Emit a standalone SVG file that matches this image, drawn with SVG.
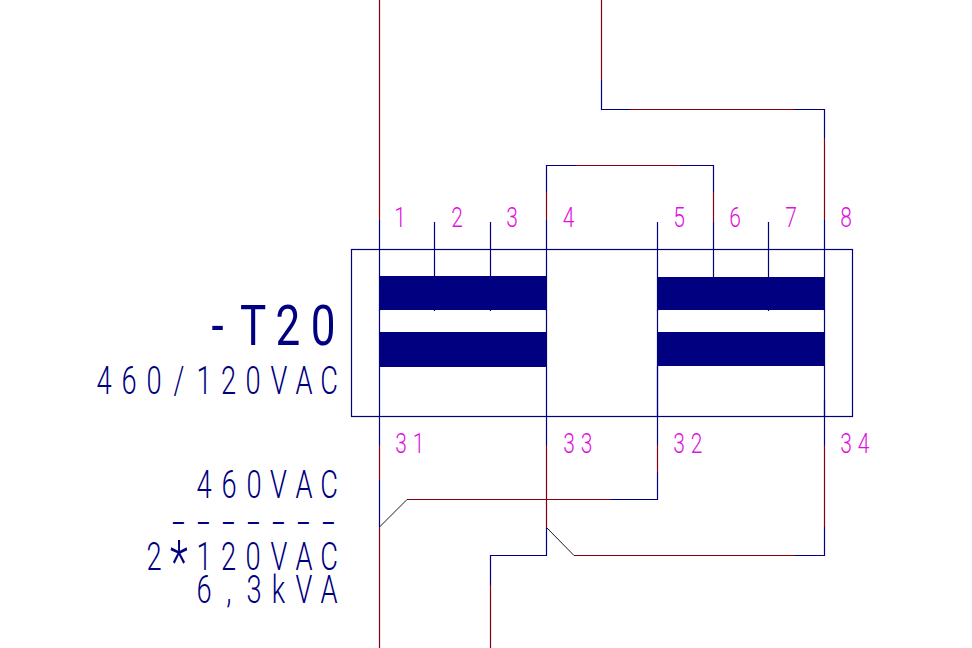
<svg xmlns="http://www.w3.org/2000/svg" width="972" height="648" viewBox="0 0 972 648">
<style>
.n{fill:none;stroke:#000080;stroke-width:1.2}
.r{fill:none;stroke:#850010;stroke-width:1.2}
.k{fill:none;stroke:#000000;stroke-width:.9}
.c{fill:#000080;stroke:none}
text{font-family:"Roboto","Liberation Sans",sans-serif;text-anchor:middle}
.t{fill:#000080;font-size:39px;font-weight:300}
.b{fill:#000080;font-size:55px;font-weight:400}
.m{fill:#e010e0;font-size:28px;font-weight:300}
.a{font-size:60px}
</style>
<rect width="972" height="648" fill="#ffffff"/>
<g id="connectors">
<path class="r" d="M379.500 0V220M379.500 445V480M379.500 527V648"/>
<path class="n" d="M379.500 220V445M379.500 480V527"/>
<path class="k" d="M379.500 527L407 499.500"/>
<path class="r" d="M407 499.500H610M657.500 445V472"/>
<path class="n" d="M610 499.500H657.500V472M657.500 222V445"/>
<path class="n" d="M546.500 192V165.500H576M680 165.500H713.500V192M546.500 220V445M713.500 222V310"/>
<path class="r" d="M546.500 220V192M576 165.500H680M713.500 192V222M546.500 445V528"/>
<path class="n" d="M546.500 528V555.500H490.500V585"/>
<path class="r" d="M490.500 585V648"/>
<path class="k" d="M547 528L574 555.500"/>
<path class="r" d="M601.500 0V80M630 109.500H795M824.500 138V220M824.500 445V527M574 555.500H795"/>
<path class="n" d="M601.500 80V109.500H630M795 109.500H824.500V138M824.500 220V366M824.500 400V445M824.500 527V555.500H795"/>
</g>
<g id="transformer-T20">
<rect class="n" x="351.500" y="249.500" width="501" height="167"/>
<rect class="c" x="379" y="276" width="168" height="34"/>
<rect class="c" x="379" y="332" width="168" height="35"/>
<rect class="c" x="657" y="277" width="168" height="33"/>
<rect class="c" x="657" y="332" width="167" height="34"/>
<path class="n" d="M434.500 222V311M490.500 222V311M768.500 222V311M379.500 310V311M546.500 310V311M657.500 310V311M824.500 310V311M657.500 366V417M824.500 366V417"/>
</g>
<g id="labels">
<text class="b" transform="translate(0,345) scale(.8,1)" x="271.900 316.300 360 403.800">-T20</text>
<text class="t" transform="translate(0,394) scale(.7,1)" x="148.600 184.300 220 255.700 291.400 326.400 361.400 398.600 434.300 470">460/120VAC</text>
<text class="t" transform="translate(0,498) scale(.7,1)" x="291.400 327.100 362.900 397.900 434.300 470">460VAC</text>
<text class="t" transform="translate(0,535) scale(1.2,1)" x="148.800 169.600 190.400 211.300 232.100 252.900 273.800">-------</text>
<text class="t" transform="translate(0,570) scale(.7,1)" x="220 255.700 291.400 326.400 361.400 398.600 434.300 470">2<tspan class="a" dy="12">*</tspan><tspan dy="-12">120VAC</tspan></text>
<text class="t" transform="translate(0,603) scale(.7,1)" x="291.400 327.100 362.900 397.900 434.300 470">6,3kVA</text>
</g>
<g id="terminals">
<text class="m" transform="translate(400,227) scale(.75,1)">1</text>
<text class="m" transform="translate(457,227) scale(.75,1)">2</text>
<text class="m" transform="translate(512,227) scale(.75,1)">3</text>
<text class="m" transform="translate(568.500,227) scale(.75,1)">4</text>
<text class="m" transform="translate(679,227) scale(.75,1)">5</text>
<text class="m" transform="translate(735,227) scale(.75,1)">6</text>
<text class="m" transform="translate(791,227) scale(.75,1)">7</text>
<text class="m" transform="translate(846,227) scale(.75,1)">8</text>
<text class="m" transform="translate(401,453) scale(.75,1)" x="0 23.300">31</text>
<text class="m" transform="translate(569,453) scale(.75,1)" x="0 23.300">33</text>
<text class="m" transform="translate(679,453) scale(.75,1)" x="0 23.300">32</text>
<text class="m" transform="translate(846,453) scale(.75,1)" x="0 23.300">34</text>
</g>
</svg>
